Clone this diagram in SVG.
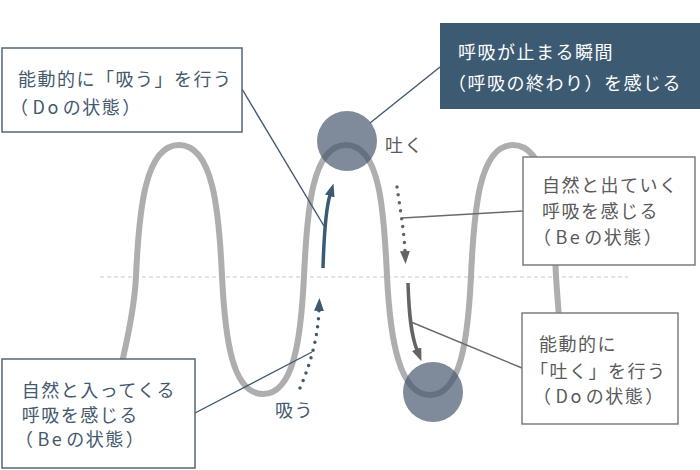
<svg xmlns="http://www.w3.org/2000/svg" width="700" height="470" viewBox="0 0 700 470">
<defs>
<style>
text{font-family:"Noto Sans CJK JP","Noto Sans CJK SC",sans-serif;font-size:18px;letter-spacing:1.5px}
.slate{fill:#44596e}
.gray{fill:#5a5a5a}
.white{fill:#ffffff}
.box-s{fill:#fff;stroke:#51677b;stroke-width:1.5}
.box-g{fill:#fff;stroke:#7d7d7d;stroke-width:1.5}
.box-d{fill:#3d5a73}
.wave{fill:none;stroke:#aeaeae;stroke-width:6;stroke-linecap:round}
.base{stroke:#c9c9c9;stroke-width:1;stroke-dasharray:4 3}
.ball{fill:#42536b;fill-opacity:0.68}
.conn-s{stroke:#3f5870;stroke-width:1.4;fill:none}
.conn-g{stroke:#6a6a6a;stroke-width:1.4;fill:none}
.arr-s{stroke:#3b5a74;stroke-width:3.5;fill:none}
.arr-g{stroke:#646464;stroke-width:3.5;fill:none}
.dots{stroke-dasharray:0 8;stroke-linecap:round}
</style>
<marker id="head-s" markerUnits="userSpaceOnUse" markerWidth="14" markerHeight="10" refX="1" refY="5" orient="auto"><path d="M0,0 L13,5 L0,10 z" fill="#3b5a74"/></marker>
<marker id="head-g" markerUnits="userSpaceOnUse" markerWidth="14" markerHeight="10" refX="1" refY="5" orient="auto"><path d="M0,0 L13,5 L0,10 z" fill="#646464"/></marker>
</defs>
<rect width="700" height="470" fill="#ffffff"/>
<g id="baseline">
<line class="base" x1="100" y1="277" x2="628" y2="277"/>
</g>
<g id="wave">
<path class="wave" d="M123 358 C127 340 134.5 309 136 276 C139 210 145 145 179 145 C213 145 219 210 222 276 C225 338 232 394 263 394 C294 394 301 338 304 276 C307 210 312 145 346 145 C380 145 384 210 387 276 C390 338 399 395 430 395 C461 395 468 338 471 276 C474 210 479 145 513 145 C547 145 553 210 556 276 C557 292 558 304 559 318"/>
</g>
<g id="moment-top"><circle class="ball" cx="347" cy="141" r="30"/></g>
<g id="moment-bottom"><circle class="ball" cx="433" cy="392" r="30"/></g>
<g id="flow-arrows">
<path class="arr-s" d="M323 268 C324 235 326 208 330 195" marker-end="url(#head-s)"/>
<path class="arr-g dots" d="M397 187 C400 208 404 230 405 252" marker-end="url(#head-g)"/>
<path class="arr-g" d="M408 283 C409 315 411 335 417 350" marker-end="url(#head-g)"/>
<path class="arr-s dots" d="M300 388 C312 360 318 335 319 310" marker-end="url(#head-s)"/>
</g>
<g id="connectors">
<line class="conn-s" x1="242" y1="89" x2="324" y2="226"/>
<line class="conn-s" x1="440" y1="67" x2="370" y2="123"/>
<line class="conn-g" x1="523" y1="211" x2="402" y2="218"/>
<line class="conn-g" x1="522" y1="368" x2="411" y2="322"/>
<line class="conn-s" x1="195" y1="413" x2="312" y2="352"/>
</g>
<g id="label-exhale"><text class="gray" x="385" y="151.5">吐く</text></g>
<g id="label-inhale"><text class="slate" x="275" y="416.5">吸う</text></g>
<g id="box-inhale-do">
<rect class="box-s" x="2" y="48" width="240" height="84"/>
<text class="slate" x="18" y="85.5">能動的に「吸う」を行う</text>
<text class="slate" x="10" y="113.5">（<tspan dx="3">D</tspan><tspan dx="1">o</tspan><tspan dx="3">の状態</tspan><tspan dx="1">）</tspan></text>
</g>
<g id="box-pause">
<rect class="box-d" x="440" y="23" width="262" height="86"/>
<text class="white" x="458" y="59">呼吸が止まる瞬間</text>
<text class="white" x="448" y="90">（呼吸の終わり）を感じる</text>
</g>
<g id="box-exhale-be">
<rect class="box-g" x="523" y="157" width="172" height="108"/>
<text class="gray" x="542" y="191.5">自然と出ていく</text>
<text class="gray" x="542" y="218">呼吸を感じる</text>
<text class="gray" x="533" y="244">（<tspan dx="3">B</tspan><tspan dx="1">e</tspan><tspan dx="3">の状態</tspan><tspan dx="1">）</tspan></text>
</g>
<g id="box-exhale-do">
<rect class="box-g" x="522" y="313" width="156" height="111"/>
<text class="gray" x="539" y="350.5">能動的に</text>
<text class="gray" x="530" y="377.5">「吐く」を行う</text>
<text class="gray" x="533" y="403">（<tspan dx="3">D</tspan><tspan dx="1">o</tspan><tspan dx="3">の状態</tspan><tspan dx="1">）</tspan></text>
</g>
<g id="box-inhale-be">
<rect class="box-s" x="2" y="359" width="193" height="109"/>
<text class="slate" x="21.7" y="396.5">自然と入ってくる</text>
<text class="slate" x="21.7" y="422">呼吸を感じる</text>
<text class="slate" x="15" y="446">（<tspan dx="3">B</tspan><tspan dx="1">e</tspan><tspan dx="3">の状態</tspan><tspan dx="1">）</tspan></text>
</g>
</svg>
